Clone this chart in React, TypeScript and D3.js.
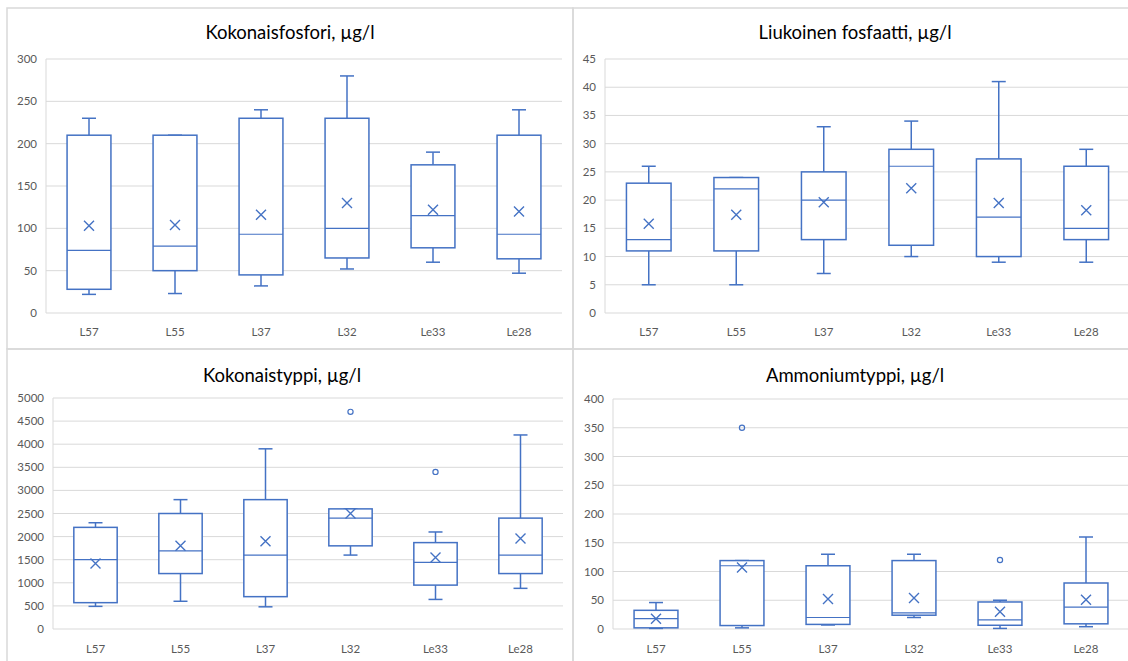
import React from "react";
import * as d3 from "d3";

const categories = ["L57", "L55", "L37", "L32", "Le33", "Le28"];

// Kokonaisfosfori
const tpMin = [22, 23, 32, 52, 60, 47];
const tpQ1 = [28, 50, 45, 65, 77, 64];
const tpMedian = [74, 79, 93, 100, 115, 93];
const tpQ3 = [210, 210, 230, 230, 175, 210];
const tpMax = [230, 210, 240, 280, 190, 240];
const tpMean = [103, 104, 116, 130, 122, 120];
const tpOutliers: number[][] = [[], [], [], [], [], []];
const tpTicks = [0, 50, 100, 150, 200, 250, 300];

// Liukoinen fosfaatti
const lfMin = [5, 5, 7, 10, 9, 9];
const lfQ1 = [11, 11, 13, 12, 10, 13];
const lfMedian = [13, 22, 20, 26, 17, 15];
const lfQ3 = [23, 24, 25, 29, 27.3, 26];
const lfMax = [26, 24, 33, 34, 41, 29];
const lfMean = [15.8, 17.4, 19.6, 22.1, 19.5, 18.2];
const lfOutliers: number[][] = [[], [], [], [], [], []];
const lfTicks = [0, 5, 10, 15, 20, 25, 30, 35, 40, 45];

// Kokonaistyppi
const tnMin = [490, 600, 480, 1600, 640, 880];
const tnQ1 = [570, 1200, 700, 1800, 950, 1200];
const tnMedian = [1500, 1690, 1600, 2400, 1440, 1600];
const tnQ3 = [2200, 2500, 2800, 2600, 1870, 2400];
const tnMax = [2300, 2800, 3900, 2600, 2100, 4200];
const tnMean = [1420, 1800, 1900, 2500, 1550, 1960];
const tnOutliers: number[][] = [[], [], [], [4700], [3400], []];
const tnTicks = [0, 500, 1000, 1500, 2000, 2500, 3000, 3500, 4000, 4500, 5000];

// Ammoniumtyppi
const amMin = [1, 2, 7, 20, 1, 4];
const amQ1 = [2, 6, 8, 24, 6.5, 9];
const amMedian = [18, 110, 20, 28, 16, 38];
const amQ3 = [32.5, 119, 110, 119, 47, 80];
const amMax = [46, 119, 130, 130, 50, 160];
const amMean = [18, 107, 52, 54, 30, 51];
const amOutliers: number[][] = [[], [350], [], [], [120], []];
const amTicks = [0, 50, 100, 150, 200, 250, 300, 350, 400];

const BOX = "#4472C4";
const GRID = "#d9d9d9";
const TEXT = "#595959";
const FONT = "Lato, 'Open Sans', sans-serif";

type PanelProps = {
  title: string;
  titleX: number;
  titleY: number;
  left: number;
  right: number;
  top: number;
  bottom: number;
  labelY: number;
  ticks: number[];
  min: number[];
  q1: number[];
  median: number[];
  q3: number[];
  max: number[];
  mean: number[];
  outliers: number[][];
};

function Panel(p: PanelProps) {
  const x = d3
    .scaleBand<string>()
    .domain(categories)
    .range([p.left, p.right])
    .paddingInner(0.49)
    .paddingOuter(0.245);
  const y = d3
    .scaleLinear()
    .domain([p.ticks[0], p.ticks[p.ticks.length - 1]])
    .range([p.bottom, p.top]);
  const bw = x.bandwidth();
  const cap = 7;
  const m = 5;
  return (
    <g>
      {p.ticks.map((t) => (
        <g key={t}>
          <line x1={p.left} x2={p.right} y1={y(t)} y2={y(t)} stroke={GRID} strokeWidth={1} />
          <text
            x={p.left - 9}
            y={y(t)}
            dy="0.35em"
            textAnchor="end"
            fontSize={11.5}
            fill={TEXT}
            fontFamily={FONT}
          >
            {t}
          </text>
        </g>
      ))}
      <line x1={p.left} x2={p.left} y1={p.top} y2={p.bottom} stroke={GRID} strokeWidth={1} />
      {categories.map((c, i) => {
        const x0 = x(c)!;
        const cx = x0 + bw / 2;
        return (
          <g key={c} fill="none" stroke={BOX} strokeWidth={1.5}>
            <line x1={cx} x2={cx} y1={y(p.max[i])} y2={y(p.q3[i])} />
            <line x1={cx} x2={cx} y1={y(p.q1[i])} y2={y(p.min[i])} />
            <line x1={cx - cap} x2={cx + cap} y1={y(p.max[i])} y2={y(p.max[i])} />
            <line x1={cx - cap} x2={cx + cap} y1={y(p.min[i])} y2={y(p.min[i])} />
            <rect x={x0} y={y(p.q3[i])} width={bw} height={y(p.q1[i]) - y(p.q3[i])} fill="white" />
            <line x1={x0} x2={x0 + bw} y1={y(p.median[i])} y2={y(p.median[i])} strokeWidth={1.2} />
            <path
              d={`M${cx - m},${y(p.mean[i]) - m}L${cx + m},${y(p.mean[i]) + m}M${cx - m},${y(p.mean[i]) + m}L${cx + m},${y(p.mean[i]) - m}`}
              strokeWidth={1.4}
            />
            {p.outliers[i].map((o, j) => (
              <circle key={j} cx={cx} cy={y(o)} r={2.6} strokeWidth={1.2} />
            ))}
            <text
              x={cx}
              y={p.labelY}
              textAnchor="middle"
              fontSize={11.5}
              fill={TEXT}
              stroke="none"
              fontFamily={FONT}
            >
              {c}
            </text>
          </g>
        );
      })}
      <text
        x={p.titleX}
        y={p.titleY}
        textAnchor="middle"
        fontSize={18.5}
        fill="#000"
        fontFamily={FONT}
      >
        {p.title}
      </text>
    </g>
  );
}

export default function App() {
  return (
    <svg
      width={1128}
      height={661}
      style={{ position: "absolute", left: 0, top: 0, background: "white" }}
    >
      <rect x={0} y={0} width={1128} height={661} fill="white" />
      <rect x={7} y={8} width={566} height={341} fill="none" stroke={GRID} strokeWidth={1.5} />
      <rect x={573} y={8} width={570} height={341} fill="none" stroke={GRID} strokeWidth={1.5} />
      <rect x={7} y={349} width={566} height={330} fill="none" stroke={GRID} strokeWidth={1.5} />
      <rect x={573} y={349} width={570} height={330} fill="none" stroke={GRID} strokeWidth={1.5} />
      <Panel
        title="Kokonaisfosfori, µg/l"
        titleX={290}
        titleY={39}
        left={46}
        right={562}
        top={59}
        bottom={313}
        labelY={336}
        ticks={tpTicks}
        min={tpMin}
        q1={tpQ1}
        median={tpMedian}
        q3={tpQ3}
        max={tpMax}
        mean={tpMean}
        outliers={tpOutliers}
      />
      <Panel
        title="Liukoinen fosfaatti, µg/l"
        titleX={855}
        titleY={39}
        left={605}
        right={1130}
        top={59}
        bottom={313}
        labelY={336}
        ticks={lfTicks}
        min={lfMin}
        q1={lfQ1}
        median={lfMedian}
        q3={lfQ3}
        max={lfMax}
        mean={lfMean}
        outliers={lfOutliers}
      />
      <Panel
        title="Kokonaistyppi, µg/l"
        titleX={282}
        titleY={382}
        left={53}
        right={563}
        top={398}
        bottom={629}
        labelY={653}
        ticks={tnTicks}
        min={tnMin}
        q1={tnQ1}
        median={tnMedian}
        q3={tnQ3}
        max={tnMax}
        mean={tnMean}
        outliers={tnOutliers}
      />
      <Panel
        title="Ammoniumtyppi, µg/l"
        titleX={855}
        titleY={382}
        left={613}
        right={1129}
        top={399}
        bottom={629}
        labelY={653}
        ticks={amTicks}
        min={amMin}
        q1={amQ1}
        median={amMedian}
        q3={amQ3}
        max={amMax}
        mean={amMean}
        outliers={amOutliers}
      />
    </svg>
  );
}
